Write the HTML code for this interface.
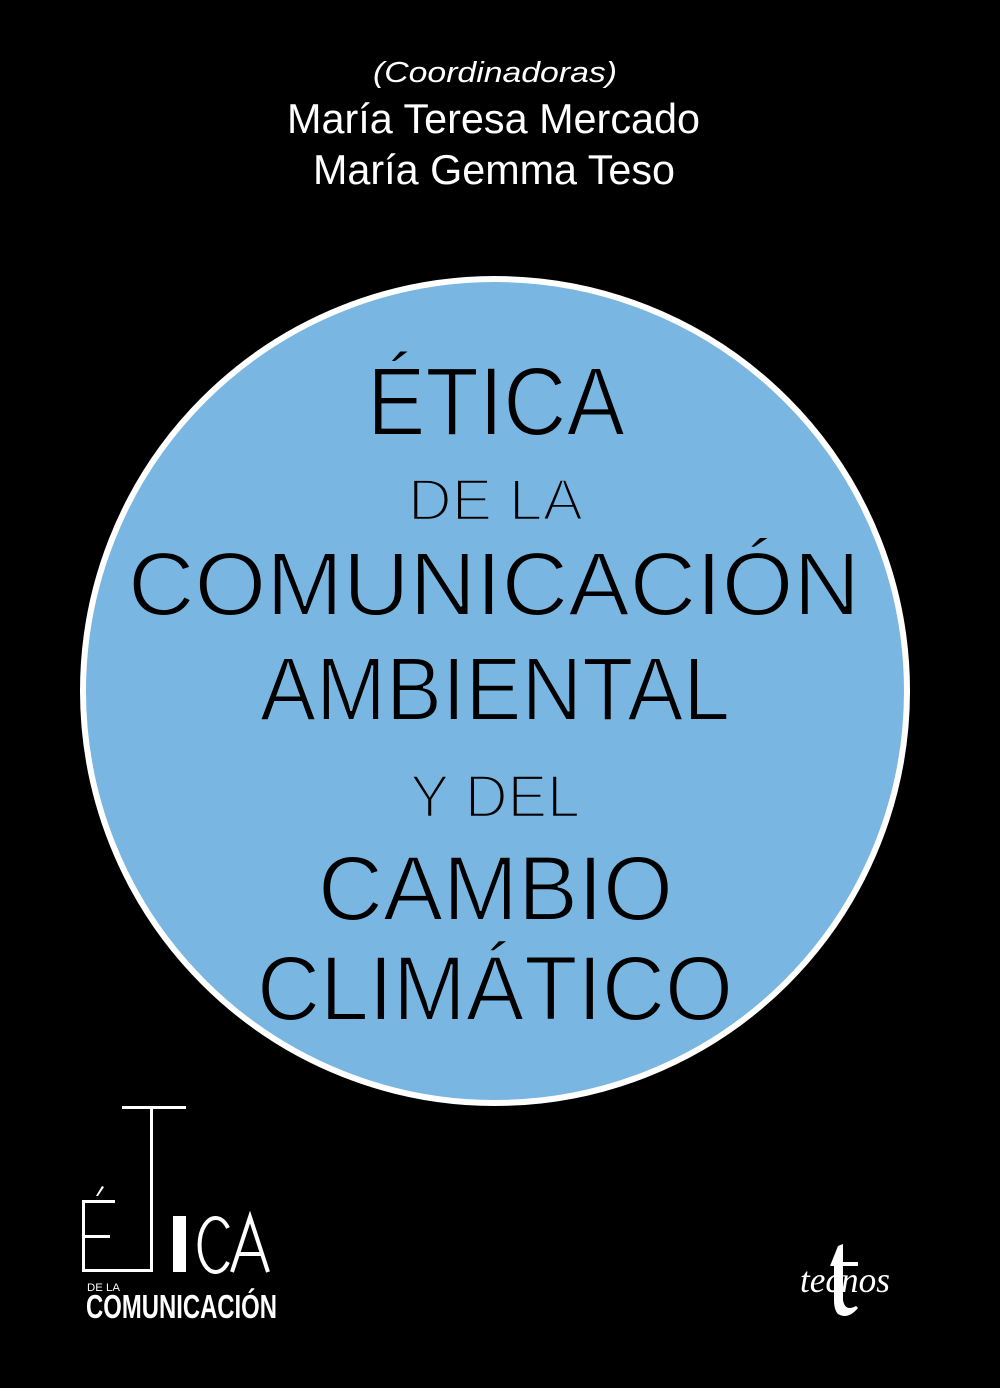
<!DOCTYPE html>
<html><head><meta charset="utf-8"><style>
html,body{margin:0;padding:0;background:#000;}
svg{display:block}
</style></head><body>
<svg width="1000" height="1388" viewBox="0 0 1000 1388" xmlns="http://www.w3.org/2000/svg">
<rect width="1000" height="1388" fill="#000"/>
<g fill="#fff" font-family="Liberation Sans, sans-serif">
<text x="373" y="82" font-size="29" font-style="italic" textLength="244" lengthAdjust="spacingAndGlyphs">(Coordinadoras)</text>
<text x="287" y="133" font-size="42" textLength="413" lengthAdjust="spacingAndGlyphs">María Teresa Mercado</text>
<text x="313" y="184" font-size="42" textLength="362" lengthAdjust="spacingAndGlyphs">María Gemma Teso</text>
</g>
<circle cx="495" cy="691" r="412" fill="#7ab6e2" stroke="#fff" stroke-width="6"/>
<g fill="#000" font-family="Liberation Sans, sans-serif" stroke="#7ab6e2" stroke-width="2">
<text x="367" y="435" font-size="97" textLength="258" lengthAdjust="spacingAndGlyphs">ÉTICA</text>
<text x="408" y="520" font-size="58" textLength="175" lengthAdjust="spacingAndGlyphs" stroke-width="2.5">DE LA</text>
<text x="128" y="615" font-size="90" textLength="732" lengthAdjust="spacingAndGlyphs">COMUNICACIÓN</text>
<text x="260" y="720" font-size="90" textLength="470" lengthAdjust="spacingAndGlyphs">AMBIENTAL</text>
<text x="410" y="817" font-size="60" textLength="170" lengthAdjust="spacingAndGlyphs" stroke-width="2.5">Y DEL</text>
<text x="318" y="920" font-size="92" textLength="355" lengthAdjust="spacingAndGlyphs">CAMBIO</text>
<text x="257" y="1020" font-size="92" textLength="476" lengthAdjust="spacingAndGlyphs">CLIMÁTICO</text>
</g>
<g fill="#fff" font-family="Liberation Sans, sans-serif">
<rect x="122" y="1106" width="64" height="3"/>
<rect x="150" y="1106" width="3" height="166"/>
<rect x="82" y="1200" width="3" height="72"/>
<rect x="82" y="1200" width="33" height="3"/>
<rect x="82" y="1235" width="28" height="3"/>
<rect x="82" y="1269" width="71" height="3"/>
<path d="M96 1196 L102 1186 L104 1187 L98 1196Z"/>
<rect x="173" y="1216" width="13" height="56"/>
<path d="M228 1228 A16 27 0 1 0 228 1262" fill="none" stroke="#fff" stroke-width="4"/>
<path d="M232 1272 L250 1217 L268 1272 M239 1254 L261 1254" fill="none" stroke="#fff" stroke-width="4"/>
<text x="87" y="1291" font-size="11" textLength="33" lengthAdjust="spacingAndGlyphs">DE LA</text>
<text x="86" y="1318" font-size="33" font-weight="bold" textLength="191" lengthAdjust="spacingAndGlyphs">COMUNICACIÓN</text>
<path d="M838 1246 L843 1244 L843 1262 L858 1262 L858 1266 L843 1266 L843 1300 Q845 1312 856 1306 L858 1308 Q848 1320 838 1314 Q834 1310 834 1300 L834 1266 L830 1266 Z"/>
<text x="800" y="1292" font-size="36" font-style="italic" font-family="Liberation Serif, serif" textLength="90" lengthAdjust="spacingAndGlyphs">tecnos</text>
</g>
</svg>
</body></html>
